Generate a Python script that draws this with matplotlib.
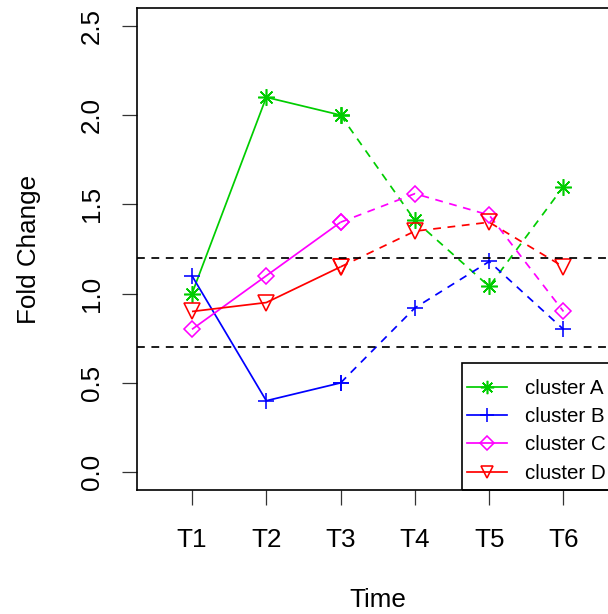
import matplotlib
matplotlib.use('Agg')
import matplotlib.pyplot as plt
from matplotlib.patches import Rectangle
from matplotlib.lines import Line2D

# ---- data ----
times = ['T1', 'T2', 'T3', 'T4', 'T5', 'T6']
cluster_a = [1.0, 2.1, 2.0, 1.41, 1.04, 1.6]
cluster_b = [1.1, 0.4, 0.5, 0.92, 1.18, 0.8]
cluster_c = [0.8, 1.1, 1.4, 1.56, 1.44, 0.9]
cluster_d = [0.9, 0.95, 1.15, 1.35, 1.40, 1.15]
series_names = ['cluster A', 'cluster B', 'cluster C', 'cluster D']
thresholds = [1.2, 0.7]
yticks = [0.0, 0.5, 1.0, 1.5, 2.0, 2.5]
ytick_labels = ['0.0', '0.5', '1.0', '1.5', '2.0', '2.5']

series = [cluster_a, cluster_b, cluster_c, cluster_d]
colors = ['#00CD00', '#0000FF', '#FF00FF', '#FF0000']
markers = [(8, 2, 0), '+', 'D', 'v']
msizes = [12, 12, 8.6, 11.5]

plt.rcParams['font.family'] = ['Liberation Sans', 'DejaVu Sans']

W, H = 608, 614
fig = plt.figure(figsize=(W / 100, H / 100), dpi=100)
xmin, xmax = 0.26, 6.74
ymin, ymax = -0.1, 2.6
px_per_x = 74.3
ax_w_px = (xmax - xmin) * px_per_x
ax = fig.add_axes([137 / W, (H - 490) / H, ax_w_px / W, (490 - 8) / H])

x = list(range(1, len(times) + 1))
lw = 1.25
dash = (0, (4.5, 3.8))
for vals, col, mk, ms in zip(series, colors, markers, msizes):
    ax.plot(x[:3], vals[:3], color=col, lw=lw, marker=mk, ms=ms,
            mfc='none', mec=col, mew=1.15, solid_capstyle='butt')
    ax.plot(x[2:], vals[2:], color=col, lw=lw, ls=dash, marker=mk, ms=ms,
            mfc='none', mec=col, mew=1.15)

for t in thresholds:
    ax.axhline(t, color='black', lw=lw, ls=dash)

ax.set_xlim(xmin, xmax)
ax.set_ylim(ymin, ymax)
ax.set_xticks(x)
ax.set_xticklabels(times)
ax.set_yticks(yticks)
ax.set_yticklabels(ytick_labels, rotation=90, va='center')

fs = 18.7
ax.tick_params(axis='both', direction='out', length=10.8, width=0.9,
               color='#333333', labelsize=fs)
ax.tick_params(axis='x', pad=16.3)
ax.tick_params(axis='y', pad=12.8)
for s in ax.spines.values():
    s.set_linewidth(1.2)
    s.set_color('black')

ax.set_xlabel('Time', fontsize=fs)
ax.xaxis.set_label_coords(0.5, (490 - 588) / 482)
ax.set_ylabel('Fold Change', fontsize=fs)
ax.yaxis.set_label_coords((41 - 137) / ax_w_px, 0.5)

# legend frame (bottom-right, inset 0)
frame = Rectangle(((462 - 137) / ax_w_px, 0), 1 - (462 - 137) / ax_w_px,
                  (490 - 363) / 482, transform=ax.transAxes, fill=False,
                  edgecolor='black', lw=1.2, clip_on=False, zorder=5)
ax.add_patch(frame)

handles = [Line2D([], [], color=c, lw=lw, marker=m, ms=s * 0.8, mfc='none',
                  mec=c, mew=1.15) for c, m, s in zip(colors, markers, msizes)]
lfs = 14.8
leg = ax.legend(handles, series_names, loc='upper left', frameon=False,
                fontsize=lfs, handlelength=40 / 20.6, handletextpad=18 / 20.6,
                labelspacing=0.45, borderpad=0, borderaxespad=0, numpoints=1,
                bbox_to_anchor=(467 / W, (H - 379) / H),
                bbox_transform=fig.transFigure)

fig.savefig('out.png', dpi=100)
